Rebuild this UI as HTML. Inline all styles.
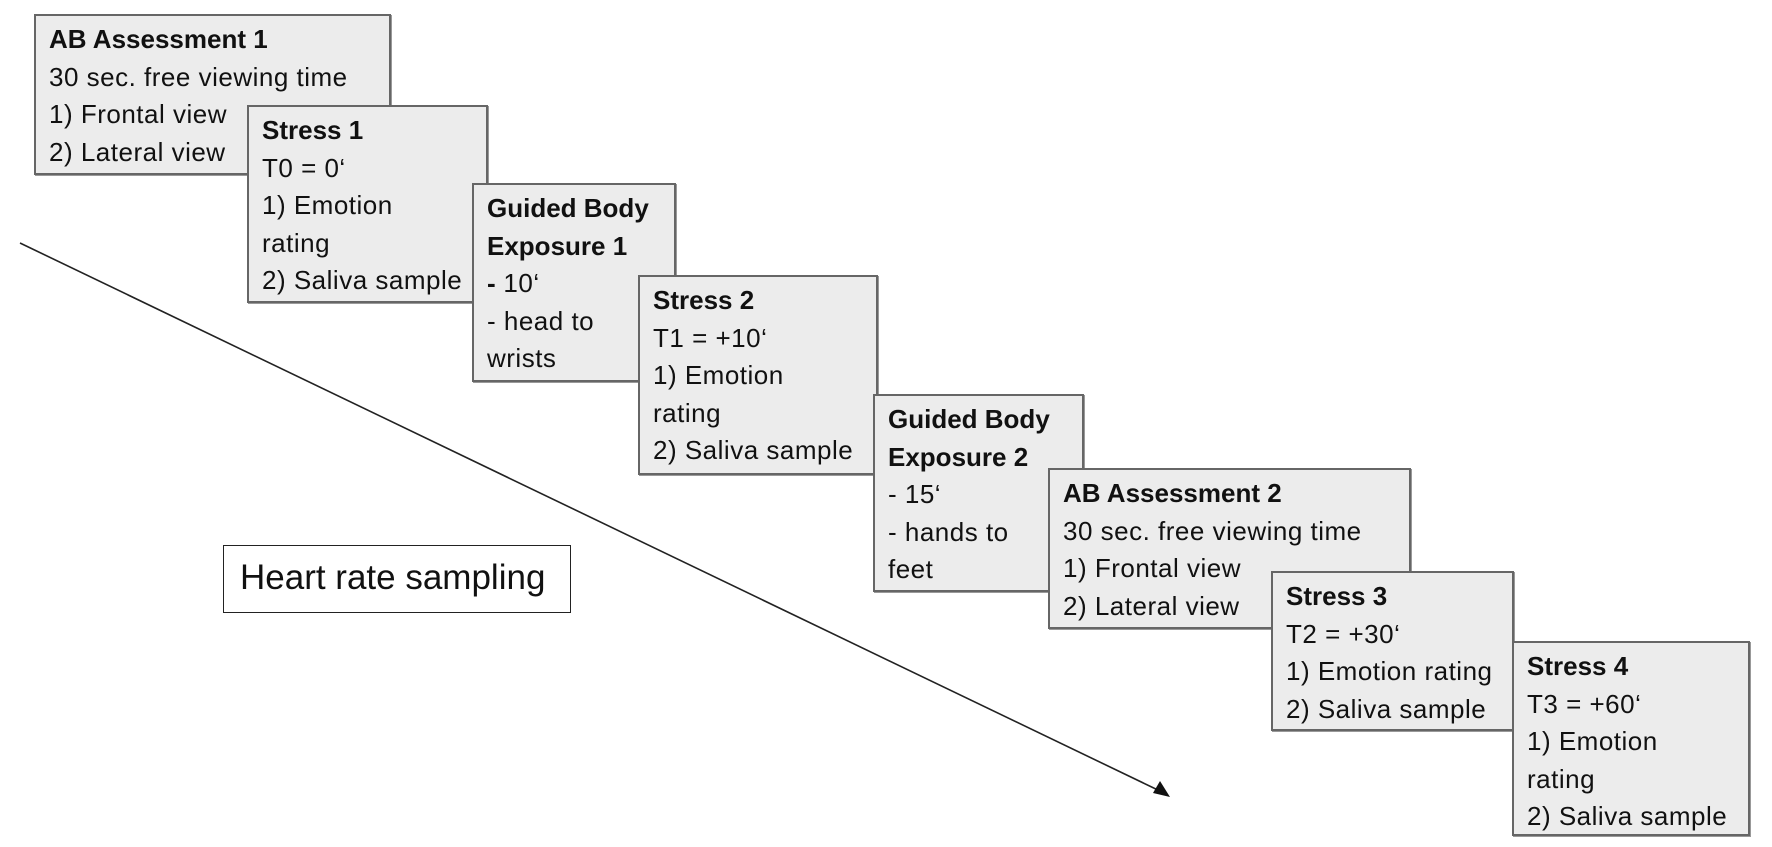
<!DOCTYPE html>
<html><head><meta charset="utf-8"><style>
body{margin:0;width:1772px;height:847px;background:#fff;position:relative;overflow:hidden;font-family:"Liberation Sans",sans-serif;}
.b{position:absolute;box-sizing:border-box;background:#ececec;border:2px solid #666;padding:5px 0 0 13px;font-size:26px;letter-spacing:0.5px;line-height:37.5px;color:#111;white-space:nowrap;box-shadow:1px 1px 0 #999;overflow:hidden;}
.b b{font-weight:bold;letter-spacing:0;}
.h{position:absolute;left:223px;top:545px;width:348px;height:68px;box-sizing:border-box;border:1.5px solid #222;background:#fff;font-size:35px;line-height:64px;padding-left:16px;color:#111;}
svg{position:absolute;left:0;top:0;}
</style></head><body>
<svg width="1772" height="847"><line x1="20" y1="243" x2="1160" y2="791" stroke="#222" stroke-width="1.6"/><polygon points="1170,797 1153,793 1160,781" fill="#111"/></svg>
<div class="h">Heart rate sampling</div>
<div class="b" style="left:34px;top:14px;width:357px;height:161px"><b>AB Assessment 1</b><br>30 sec. free viewing time<br>1) Frontal view<br>2) Lateral view</div>
<div class="b" style="left:247px;top:105px;width:241px;height:198px"><b>Stress 1</b><br>T0 = 0‘<br>1) Emotion<br>rating<br>2) Saliva sample</div>
<div class="b" style="left:472px;top:183px;width:204px;height:199px"><b>Guided Body<br>Exposure 1</b><br><b>-</b> 10‘<br>- head to<br>wrists</div>
<div class="b" style="left:638px;top:275px;width:240px;height:200px"><b>Stress 2</b><br>T1 = +10‘<br>1) Emotion<br>rating<br>2) Saliva sample</div>
<div class="b" style="left:873px;top:394px;width:211px;height:198px"><b>Guided Body<br>Exposure 2</b><br>- 15‘<br>- hands to<br>feet</div>
<div class="b" style="left:1048px;top:468px;width:363px;height:161px"><b>AB Assessment 2</b><br>30 sec. free viewing time<br>1) Frontal view<br>2) Lateral view</div>
<div class="b" style="left:1271px;top:571px;width:243px;height:160px"><b>Stress 3</b><br>T2 = +30‘<br>1) Emotion rating<br>2) Saliva sample</div>
<div class="b" style="left:1512px;top:641px;width:238px;height:195px"><b>Stress 4</b><br>T3 = +60‘<br>1) Emotion<br>rating<br>2) Saliva sample</div>
</body></html>
